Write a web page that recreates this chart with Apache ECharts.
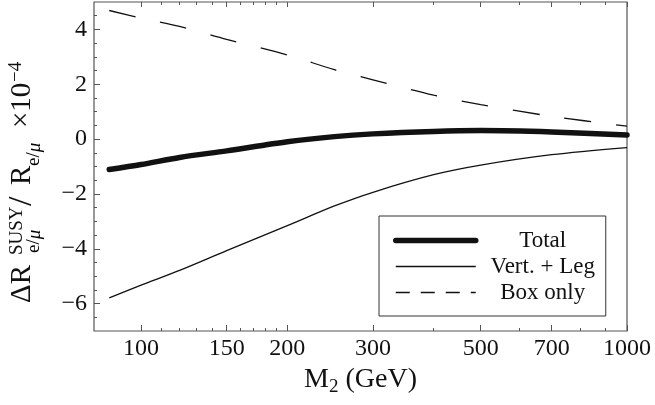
<!DOCTYPE html>
<html>
<head>
<meta charset="utf-8">
<script src="https://cdn.jsdelivr.net/npm/echarts@6/dist/echarts.min.js"></script>
<style>
  html, body { margin: 0; padding: 0; background: #fff; }
  #chart { width: 655px; height: 405px; }
</style>
</head>
<body>
<div id="chart"></div>
<script>
// M2 sample points (GeV) and the three curves, in units of 1e-4
const massPoints = [86, 100, 120, 150, 200, 250, 300, 400, 500, 700, 1000];
const totalValues = [-1.11, -0.93, -0.67, -0.43, -0.10, 0.09, 0.19, 0.28, 0.31, 0.26, 0.15];
const vertLegValues = [-5.79, -5.33, -4.79, -4.07, -3.16, -2.44, -1.94, -1.30, -0.95, -0.57, -0.31];
const boxOnlyValues = [4.69, 4.41, 4.11, 3.64, 3.07, 2.53, 2.16, 1.60, 1.26, 0.83, 0.47];
const seriesNames = ['Total', 'Vert. + Leg', 'Box only'];

const xTickLabels = [100, 150, 200, 300, 500, 700, 1000];
const xMinorTicks = [110, 120, 130, 140, 160, 170, 180, 190, 400, 600, 800, 900];
const yTickLabels = [-6, -4, -2, 0, 2, 4];
const yMinorTicks = [-6.5, -5.5, -5, -4.5, -3.5, -3, -2.5, -1.5, -1, -0.5, 0.5, 1, 1.5, 2.5, 3, 3.5, 4.5];

const SERIF = '"Liberation Serif", "DejaVu Serif", serif';
const INK = '#111';
const FRAME = '#555';
const lg = Math.log10;

function pairs(vals){
  return massPoints.map((m, i) => [lg(m), vals[i]]);
}

function xAxisOf(position, ticks, len, labels){
  return {
    type: 'value', position: position,
    min: lg(80), max: 3,
    axisLine: { show: false, onZero: false },
    splitLine: { show: false },
    axisTick: { show: true, inside: true, length: len, customValues: ticks.map(lg),
      lineStyle: { color: FRAME, width: 1 } },
    axisLabel: labels ? {
      show: true, customValues: xTickLabels.map(lg), margin: 6,
      color: INK, fontSize: 24, fontFamily: SERIF,
      formatter: v => String(Math.round(Math.pow(10, v)))
    } : { show: false }
  };
}

function yAxisOf(ticks, len, labels){
  return {
    type: 'value', position: 'left', min: -7, max: 5,
    axisLine: { show: false, onZero: false },
    splitLine: { show: false },
    axisTick: { show: true, inside: true, length: len, customValues: ticks,
      lineStyle: { color: FRAME, width: 1 } },
    axisLabel: labels ? {
      show: true, customValues: yTickLabels, margin: 7,
      color: INK, fontSize: 24, fontFamily: SERIF,
      formatter: v => v < 0 ? '\u2212' + Math.abs(v) : String(v)
    } : { show: false }
  };
}

const chart = echarts.init(document.getElementById('chart'));

const xMain = xAxisOf('bottom', xTickLabels, 6, true);
xMain.name = '{m|M}{s|2}{m| (GeV)}';
xMain.nameLocation = 'middle';
xMain.nameGap = 29;
xMain.nameTextStyle = {
  rich: {
    m: { fontSize: 28, fontFamily: SERIF, color: INK, lineHeight: 34 },
    s: { fontSize: 19, fontFamily: SERIF, color: INK, lineHeight: 20, verticalAlign: 'bottom' }
  }
};

const small = { fontSize: 19, fontFamily: SERIF, fill: INK, verticalAlign: 'middle' };
const big = { fontSize: 29, fontFamily: SERIF, fill: INK, verticalAlign: 'middle' };
const subRich = {
  text: '{n|e/}{i|\u03bc}',
  verticalAlign: 'middle',
  rich: {
    n: { fontSize: 19, fontFamily: SERIF, color: INK },
    i: { fontSize: 19, fontFamily: SERIF, fontStyle: 'italic', color: INK }
  }
};

const hidden = { opacity: 0 };

chart.setOption({
  animation: false,
  backgroundColor: '#fff',
  grid: { left: 94, right: 28, top: 2, bottom: 74, show: true, borderColor: FRAME, borderWidth: 1.2, backgroundColor: 'transparent' },
  xAxis: [
    xMain,
    xAxisOf('bottom', xMinorTicks, 3, false),
    xAxisOf('top', xTickLabels, 5, false),
    xAxisOf('top', xMinorTicks, 3, false)
  ],
  yAxis: [
    yAxisOf(yTickLabels, 6, true),
    yAxisOf(yMinorTicks, 3, false)
  ],
  legend: {
    orient: 'vertical', left: 379, top: 216,
    padding: [13, 1, 12, 14],
    borderColor: '#333', borderWidth: 1,
    itemWidth: 80, itemHeight: 25, itemGap: 3,
    selectedMode: false,
    data: [
      { name: seriesNames[0], itemStyle: hidden, lineStyle: { width: 5.5, cap: 'round', color: INK } },
      { name: seriesNames[1], itemStyle: hidden, lineStyle: { width: 1.3, color: INK } },
      { name: seriesNames[2], itemStyle: hidden, lineStyle: { width: 1.3, color: INK, type: [14, 11] } }
    ],
    formatter: n => '{c|' + n + '}',
    textStyle: {
      rich: { c: { width: 124, align: 'center', fontSize: 23, lineHeight: 25, fontFamily: SERIF, color: INK } }
    }
  },
  series: [
    {
      name: seriesNames[0], type: 'line', data: pairs(totalValues),
      symbol: 'none', smooth: 0.3,
      itemStyle: { color: INK },
      lineStyle: { color: INK, width: 5.5, cap: 'round' }
    },
    {
      name: seriesNames[1], type: 'line', data: pairs(vertLegValues),
      symbol: 'none', smooth: 0.3,
      itemStyle: { color: INK },
      lineStyle: { color: INK, width: 1.3 }
    },
    {
      name: seriesNames[2], type: 'line', data: pairs(boxOnlyValues),
      symbol: 'none', smooth: 0.3,
      itemStyle: { color: INK },
      lineStyle: { color: INK, width: 1.3, type: [27, 25] }
    }
  ],
  graphic: [{
    type: 'group', x: 22.5, y: 303, rotation: Math.PI / 2,
    children: [
      { type: 'text', x: 0, y: 0, style: Object.assign({ text: '\u0394R' }, big) },
      { type: 'text', x: 48, y: -5, style: Object.assign({ text: 'SUSY' }, small) },
      { type: 'text', x: 50, y: 12, style: subRich },
      { type: 'text', x: 97, y: 0, style: { text: '/', fontSize: 34, fontFamily: SERIF, fill: INK, verticalAlign: 'middle' } },
      { type: 'text', x: 118, y: 0, style: Object.assign({ text: 'R' }, big) },
      { type: 'text', x: 137, y: 12, style: subRich },
      { type: 'text', x: 175, y: 0, style: Object.assign({ text: '\u00d710' }, big) },
      { type: 'text', x: 221, y: -6, style: Object.assign({ text: '\u22124' }, small) }
    ]
  }]
});
</script>
</body>
</html>
